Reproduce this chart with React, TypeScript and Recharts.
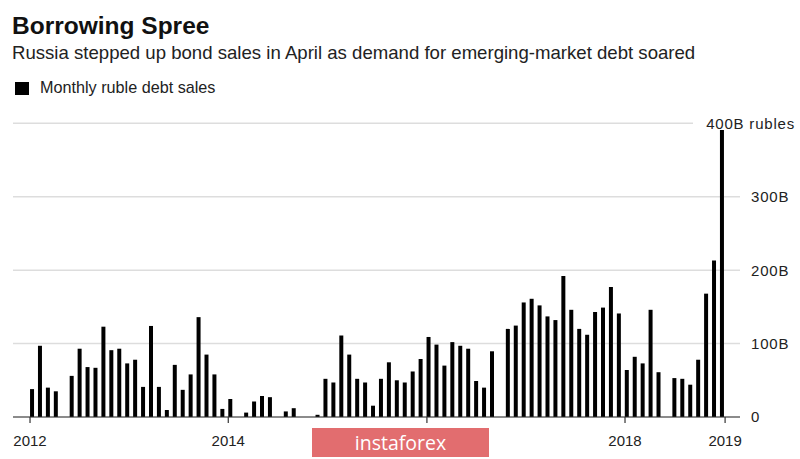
import React from 'react';
import { BarChart, Bar, XAxis, YAxis, CartesianGrid } from 'recharts';

// Monthly ruble debt sales, billions of rubles (one entry per bar, left to right)
const salesValues: number[] = [
  38, 97, 40, 35, 0, 56, 93, 68, 67, 123, 91, 93,
  73, 78, 41, 124, 41, 9.5, 71, 37, 58, 136, 85, 58,
  11, 24.5, 0, 6, 21, 28.6, 27, 0, 7.6, 12, 0, 0,
  3, 52, 47, 111, 85, 52, 47, 15.4, 52, 74.5, 50, 47,
  62, 79, 109, 98.6, 70, 102, 97, 93, 49, 40, 89.5, 0,
  120, 124.5, 156, 161, 152, 137, 132, 192, 146, 120, 112, 143,
  149, 177, 141, 64, 82, 73, 146, 61, 0, 53, 52, 44,
  78, 168, 213, 391,
];

// x-axis ticks (in bar-index units) and their labels (the 2016 label is hidden by the watermark)
const xTickIndex: number[] = [-0.25, 24.75, 49.8, 74.78, 87.4];
const xTickLabels: string[] = ['2012', '2014', '', '2018', '2019'];

// y-axis ticks and labels
const yTickValues: number[] = [0, 100, 200, 300, 400];
const yTickLabels: string[] = ['0', '100B', '200B', '300B', '400B rubles'];

const data = salesValues.map((v, i) => ({ idx: i, sales: v }));

const FONT = "'Liberation Sans', Arial, Helvetica, sans-serif";

const YTick = (props: any) => {
  const { x, y, payload } = props;
  const i = yTickValues.indexOf(payload.value);
  const label = yTickLabels[i] ?? String(payload.value);
  const isTop = i === yTickValues.length - 1;
  return (
    <g>
      {isTop && <rect x={x - 58} y={y - 3} width={58} height={6} fill="#ffffff" />}
      <text
        x={isTop ? x + 44 : x}
        y={y}
        dy="0.36em"
        textAnchor={isTop ? 'end' : 'start'}
        fill="#222"
        fontSize={15}
        letterSpacing={0.8}
        fontFamily={FONT}
      >
        {label}
      </text>
    </g>
  );
};

const xTickFormatter = (v: number) => {
  const i = xTickIndex.indexOf(v);
  return i >= 0 ? xTickLabels[i] : '';
};

export default function App() {
  return (
    <div
      style={{
        position: 'absolute',
        left: 0,
        top: 0,
        width: 800,
        height: 459,
        background: '#ffffff',
        fontFamily: FONT,
        overflow: 'hidden',
      }}
    >
      <div
        style={{
          position: 'absolute',
          left: 12,
          top: 14.3,
          fontSize: 24.5,
          lineHeight: '24.5px',
          fontWeight: 700,
          color: '#111',
          whiteSpace: 'nowrap',
        }}
      >
        Borrowing Spree
      </div>
      <div
        style={{
          position: 'absolute',
          left: 12,
          top: 44.2,
          fontSize: 18.6,
          lineHeight: '18.6px',
          color: '#222',
          whiteSpace: 'nowrap',
        }}
      >
        Russia stepped up bond sales in April as demand for emerging-market debt soared
      </div>
      <div style={{ position: 'absolute', left: 15, top: 82, width: 14, height: 13, background: '#000' }} />
      <div
        style={{
          position: 'absolute',
          left: 40,
          top: 79,
          fontSize: 16.2,
          lineHeight: '16.2px',
          color: '#222',
          whiteSpace: 'nowrap',
        }}
      >
        Monthly ruble debt sales
      </div>

      <div style={{ position: 'absolute', left: 0, top: 0 }}>
        <BarChart
          width={800}
          height={459}
          data={data}
          margin={{ top: 123.3, right: 10, bottom: 12, left: 13 }}
        >
          <CartesianGrid vertical={false} stroke="#dddddd" strokeWidth={1.5} />
          <Bar dataKey="sales" fill="#000000" barSize={4} isAnimationActive={false} />
          <XAxis
            dataKey="idx"
            type="number"
            domain={[-2.396, 89.28]}
            ticks={xTickIndex}
            tickFormatter={xTickFormatter}
            interval={0}
            height={30}
            tickSize={6}
            tickMargin={12}
            axisLine={{ stroke: '#333', strokeWidth: 1.2 }}
            tickLine={{ stroke: '#333', strokeWidth: 1.2 }}
            tick={{ fill: '#222', fontSize: 15, fontFamily: FONT }}
          />
          <YAxis
            orientation="right"
            domain={[0, 400]}
            ticks={yTickValues}
            interval={0}
            width={50}
            axisLine={false}
            tickLine={false}
            tickSize={0}
            tickMargin={11}
            tick={<YTick />}
          />
        </BarChart>
      </div>

      <div
        style={{
          position: 'absolute',
          left: 312,
          top: 428,
          width: 177,
          height: 29,
          background: '#e26d6f',
          color: '#ffffff',
          fontSize: 19.5,
          lineHeight: '29px',
          textAlign: 'center',
          fontFamily: "'Open Sans', 'Liberation Sans', Arial, sans-serif",
        }}
      >
        instaforex
      </div>
    </div>
  );
}
